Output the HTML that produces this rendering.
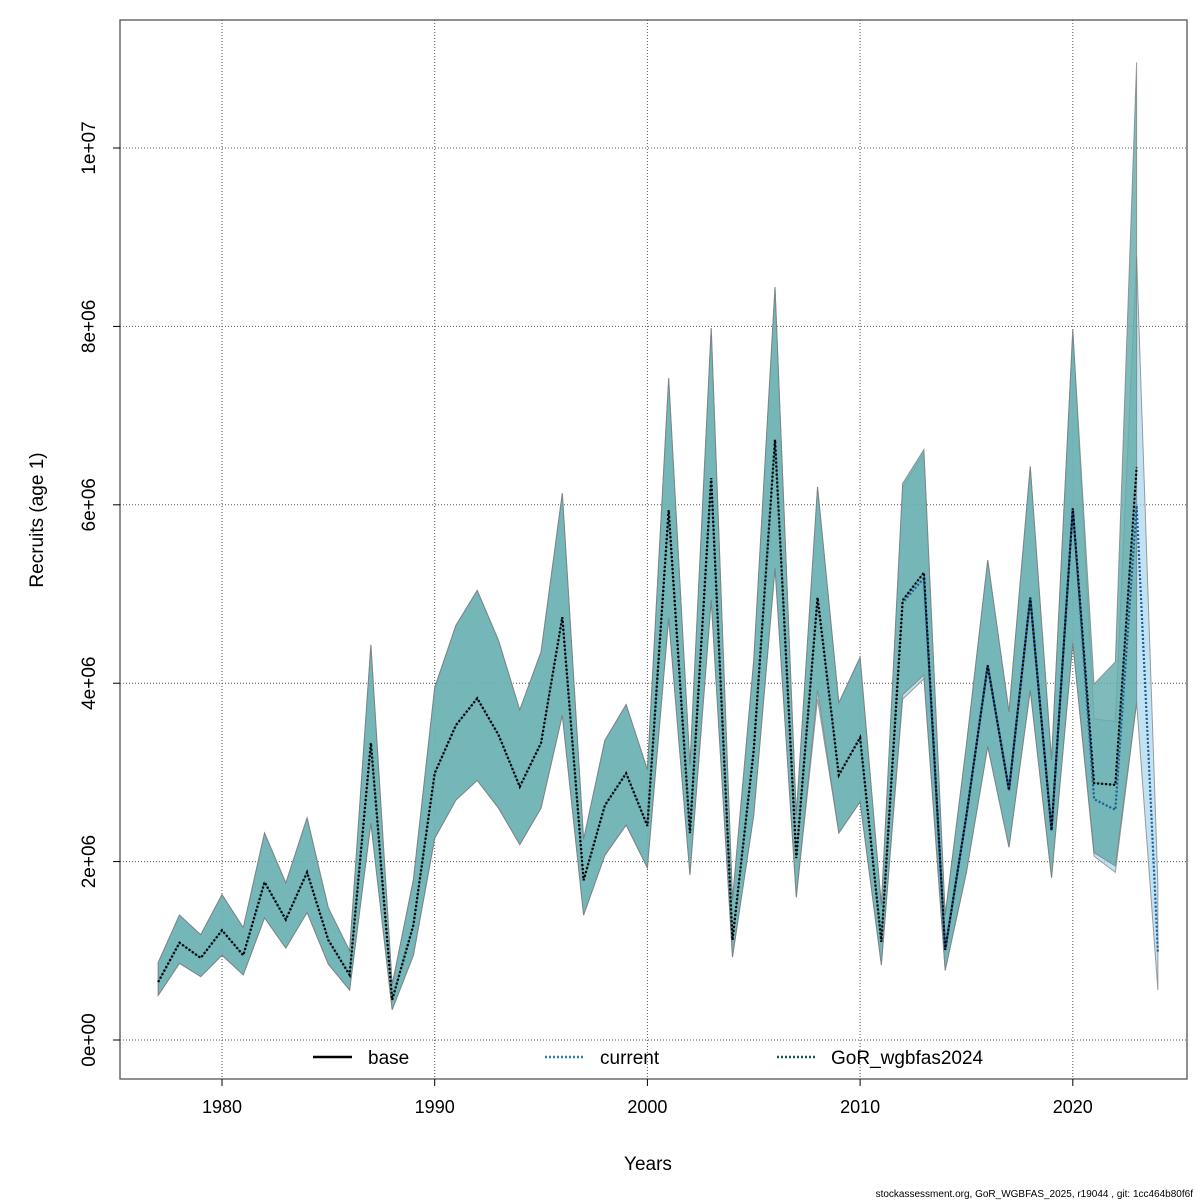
<!DOCTYPE html>
<html><head><meta charset="utf-8"><style>
body{margin:0;background:#fff;}
svg{display:block;font-family:"Liberation Sans",Arial,sans-serif;}
</style></head><body>
<svg id="chart" width="1200" height="1200" viewBox="0 0 1200 1200">
<rect x="0" y="0" width="1200" height="1200" fill="#fff"/>
<g id="grid"></g>
<g id="bands"></g>
<g id="lines"></g>
<rect x="120" y="20" width="1067" height="1059" fill="none" stroke="#555" stroke-width="1.3"/>
<g id="axes"></g>
<text x="648" y="1170" font-size="19" text-anchor="middle">Years</text>
<text transform="translate(43,520) rotate(-90)" font-size="19" text-anchor="middle">Recruits (age 1)</text>
<text x="1193" y="1197" font-size="10" text-anchor="end">stockassessment.org, GoR_WGBFAS_2025, r19044 , git: 1cc464b80f6f</text>
<g>
<line x1="313" y1="1057" x2="352" y2="1057" stroke="#000" stroke-width="2.5"/>
<text x="368" y="1064" font-size="19">base</text>
<line x1="545" y1="1057" x2="583" y2="1057" stroke="#2a7fc0" stroke-width="2.5" stroke-dasharray="2,2"/>
<text x="600" y="1064" font-size="19">current</text>
<line x1="777" y1="1057" x2="815" y2="1057" stroke="#0a5a50" stroke-width="2.5" stroke-dasharray="2,2"/>
<text x="831" y="1064" font-size="19">GoR_wgbfas2024</text>
</g>
</svg>
<script>
const years=[1977,1978,1979,1980,1981,1982,1983,1984,1985,1986,1987,1988,1989,1990,1991,1992,1993,1994,1995,1996,1997,1998,1999,2000,2001,2002,2003,2004,2005,2006,2007,2008,2009,2010,2011,2012,2013,2014,2015,2016,2017,2018,2019,2020,2021,2022,2023];
const baseMid=[0.65,1.09,0.92,1.23,0.95,1.77,1.35,1.88,1.12,0.73,3.33,0.45,1.29,2.99,3.53,3.83,3.42,2.84,3.33,4.74,1.79,2.63,2.99,2.40,5.94,2.32,6.30,1.12,3.25,6.73,2.04,4.96,2.97,3.39,1.10,4.93,5.24,1.01,2.52,4.20,2.80,4.96,2.35,5.96,2.88,2.86,6.42];
const baseUp=[0.87,1.40,1.18,1.63,1.26,2.32,1.76,2.49,1.48,1.00,4.43,0.62,1.80,3.95,4.65,5.04,4.48,3.70,4.35,6.13,2.25,3.36,3.76,3.03,7.42,3.08,7.98,1.57,4.26,8.44,2.52,6.20,3.78,4.29,1.51,6.24,6.62,1.40,3.31,5.38,3.68,6.43,3.14,7.96,3.99,4.24,10.96];
const baseLow=[0.50,0.86,0.71,0.95,0.73,1.37,1.03,1.43,0.85,0.56,2.43,0.34,0.95,2.26,2.69,2.91,2.60,2.19,2.60,3.64,1.40,2.07,2.41,1.93,4.73,1.85,4.93,0.93,2.52,5.29,1.60,3.92,2.32,2.67,0.84,3.87,4.09,0.78,1.88,3.29,2.16,3.92,1.82,4.45,2.10,1.95,3.78];
const curYears=[1977,1978,1979,1980,1981,1982,1983,1984,1985,1986,1987,1988,1989,1990,1991,1992,1993,1994,1995,1996,1997,1998,1999,2000,2001,2002,2003,2004,2005,2006,2007,2008,2009,2010,2011,2012,2013,2014,2015,2016,2017,2018,2019,2020,2021,2022,2023,2024];
const curMid=[0.65,1.09,0.92,1.23,0.95,1.77,1.35,1.88,1.12,0.73,3.33,0.45,1.29,2.99,3.53,3.83,3.42,2.84,3.33,4.74,1.79,2.63,2.99,2.40,5.94,2.32,6.30,1.12,3.25,6.73,2.04,4.96,2.97,3.39,1.10,4.90,5.18,1.01,2.52,4.20,2.80,4.96,2.35,5.96,2.70,2.58,5.99,0.99];
const curUp=[0.87,1.40,1.18,1.63,1.26,2.32,1.76,2.49,1.48,1.00,4.43,0.62,1.80,3.95,4.65,5.04,4.48,3.70,4.35,6.13,2.25,3.36,3.76,3.03,7.42,3.08,7.98,1.57,4.26,8.44,2.52,6.20,3.78,4.29,1.51,6.20,6.58,1.40,3.31,5.38,3.68,6.43,3.14,7.96,3.60,3.57,8.78,1.75];
const curLow=[0.50,0.86,0.71,0.95,0.73,1.37,1.03,1.43,0.85,0.56,2.43,0.34,0.95,2.26,2.69,2.91,2.60,2.19,2.60,3.64,1.40,2.07,2.41,1.93,4.73,1.85,4.93,0.93,2.52,5.29,1.60,3.82,2.32,2.67,0.84,3.82,4.05,0.78,1.88,3.29,2.16,3.92,1.82,4.45,2.06,1.88,3.78,0.56];
const xTicks=[1980,1990,2000,2010,2020];
const yTicks=[0,2,4,6,8,10];
const yTickLabels=["0e+00","2e+06","4e+06","6e+06","8e+06","1e+07"];

const NS="http://www.w3.org/2000/svg";
const X=y=>222+(y-1980)*21.27;
const Y=v=>1040-v*89.2;
function mk(tag,attrs,parent){const e=document.createElementNS(NS,tag);for(const k in attrs)e.setAttribute(k,attrs[k]);document.getElementById(parent).appendChild(e);return e;}
xTicks.forEach(t=>{
  const g=mk('line',{x1:X(t),y1:20,x2:X(t),y2:1079,stroke:'#555','stroke-dasharray':'1,2','stroke-width':1},'grid');
  
  
  const tk=mk('line',{x1:X(t),y1:1079,x2:X(t),y2:1086,stroke:'#000'},'axes');
  
  
  const tx=mk('text',{x:X(t),y:1113,'font-size':18,'text-anchor':'middle'},'axes');tx.textContent=t;
  
  
});
yTicks.forEach((t,i)=>{
  const g=mk('line',{x1:120,y1:Y(t),x2:1187,y2:Y(t),stroke:'#555','stroke-dasharray':'1,2','stroke-width':1},'grid');
  
  
  const tk=mk('line',{x1:113,y1:Y(t),x2:120,y2:Y(t),stroke:'#000'},'axes');
  
  
  const tx=mk('text',{transform:`translate(95,${Y(t)}) rotate(-90)`,'font-size':19,'text-anchor':'middle'},'axes');tx.textContent=yTickLabels[i];
  
  
});
function band(yrs,up,low,fill,name){
  let pts=yrs.map((y,i)=>X(y)+','+Y(up[i]));
  pts=pts.concat(yrs.map((y,i)=>X(y)+','+Y(low[i])).reverse());
  const p=mk('polygon',{points:pts.join(' '),fill:fill,stroke:'rgba(120,120,120,0.7)','stroke-width':1},'bands');
  
  
}
function line(yrs,v,stroke,dash,w,name){
  const p=mk('polyline',{points:yrs.map((y,i)=>X(y)+','+Y(v[i])).join(' '),fill:'none',stroke:stroke,'stroke-width':w,'stroke-dasharray':dash},'lines');
  
  
}
band(curYears,curUp,curLow,'rgba(160,210,235,0.65)','current-band');
band(years,baseUp,baseLow,'rgba(100,172,172,0.82)','base-band');
line(years,baseMid,'rgba(0,60,50,0.35)','none',1,'base-line');
line(curYears,curMid,'#1a5a9a','2,2',2.2,'current-line');
line(years,baseMid,'#000','2,2',2.2,'gor-line');
</script>
</body></html>
